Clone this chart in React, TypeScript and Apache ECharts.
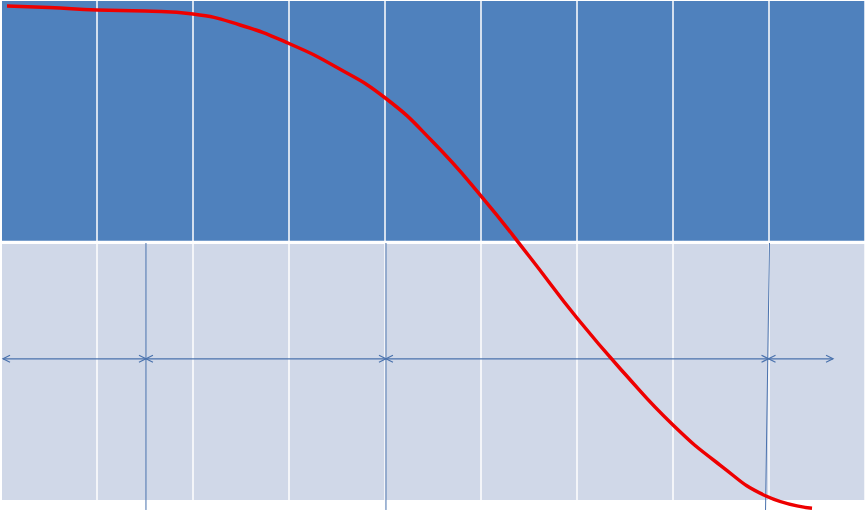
import React, { useEffect, useRef } from "react";
import * as echarts from "echarts";

// x unit = one column (columns 0..9), y unit = 0 (bottom band edge) .. 100 (top band edge)
const curveX = [0.0625, 0.5, 1.0, 1.5, 2.0, 2.49, 3.0, 3.5, 4.01, 4.5, 5.01, 5.5, 6.0, 6.5, 7.0, 7.49, 7.969, 8.448];
const curveY = [99.0, 98.7, 98.2, 98.0, 97.39, 95.19, 91.48, 86.67, 80.46, 71.74, 60.72, 48.9, 36.47, 25.25, 15.03, 7.01, 0.8, -1.66];

// bands: [x0, x1, yBottom, yTop]
const bandUpper = [0.0104, 9, 51.96, 100];
const bandLower = [0.0104, 9, 0, 51.3];

// vertical divider lines: [xTop, xBottom, yTop, yBottom]
const dividers = [
  [1.51, 1.51, 51.5, -2.0],
  [4.01, 4.01, 51.5, -2.0],
  [8.005, 7.964, 51.5, -2.0],
];

// dimension arrow stops along one horizontal line
const arrowStops = [0.021, 1.51, 4.01, 7.995, 8.667];
const arrowLevel = 28.3;

const BLUE = "#4f81bd";
const GREY = "#d0d8e8";
const LINE_BLUE = "#4a72ad";

export default function App() {
  const ref = useRef<HTMLDivElement>(null);

  useEffect(() => {
    if (!ref.current) return;
    const chart = echarts.init(ref.current, null, { renderer: "svg" });

    const arrowSegs = arrowStops.slice(0, -1).map((s, i) => [s, arrowStops[i + 1], arrowLevel]);

    const option: any = {
      animation: false,
      backgroundColor: "#ffffff",
      grid: { left: 1, top: 1, width: 864, height: 499 },
      xAxis: {
        type: "value",
        min: 0,
        max: 9,
        interval: 1,
        z: 3,
        axisLine: { show: false },
        axisTick: { show: false },
        axisLabel: { show: false },
        splitLine: { show: true, lineStyle: { color: "#ffffff", width: 1.5 } },
      },
      yAxis: {
        type: "value",
        min: 0,
        max: 100,
        axisLine: { show: false },
        axisTick: { show: false },
        axisLabel: { show: false },
        splitLine: { show: false },
      },
      series: [
        {
          type: "custom",
          z: 1,
          clip: false,
          data: [
            [...bandUpper, 0],
            [...bandLower, 1],
          ],
          encode: { x: [0, 1], y: [2, 3] },
          renderItem: (params: any, api: any) => {
            const p0 = api.coord([api.value(0), api.value(3)]);
            const p1 = api.coord([api.value(1), api.value(2)]);
            return {
              type: "rect",
              shape: { x: p0[0], y: p0[1], width: p1[0] - p0[0], height: p1[1] - p0[1] },
              style: { fill: api.value(4) === 0 ? BLUE : GREY },
            };
          },
        },
        {
          type: "custom",
          z: 5,
          clip: false,
          data: dividers,
          encode: { x: [0, 1], y: [2, 3] },
          renderItem: (params: any, api: any) => {
            const a = api.coord([api.value(0), api.value(2)]);
            const b = api.coord([api.value(1), api.value(3)]);
            return {
              type: "line",
              shape: { x1: a[0], y1: a[1], x2: b[0], y2: b[1] },
              style: { stroke: LINE_BLUE, lineWidth: 1 },
            };
          },
        },
        {
          type: "custom",
          z: 6,
          clip: false,
          data: arrowSegs,
          encode: { x: [0, 1], y: 2 },
          renderItem: (params: any, api: any) => {
            const a = api.coord([api.value(0), api.value(2)]);
            const b = api.coord([api.value(1), api.value(2)]);
            const L = 7;
            const H = 3.5;
            const st = { stroke: LINE_BLUE, lineWidth: 1.2, fill: "none" };
            return {
              type: "group",
              children: [
                { type: "line", shape: { x1: a[0], y1: a[1], x2: b[0], y2: b[1] }, style: st },
                {
                  type: "polyline",
                  shape: { points: [[a[0] + L, a[1] - H], [a[0], a[1]], [a[0] + L, a[1] + H]] },
                  style: st,
                },
                {
                  type: "polyline",
                  shape: { points: [[b[0] - L, b[1] - H], [b[0], b[1]], [b[0] - L, b[1] + H]] },
                  style: st,
                },
              ],
            };
          },
        },
        {
          type: "line",
          z: 10,
          clip: false,
          smooth: 0.5,
          showSymbol: false,
          symbol: "none",
          data: curveX.map((x, i) => [x, curveY[i]]),
          lineStyle: { color: "#ee0000", width: 3.5 },
        },
      ],
    };

    chart.setOption(option);
    return () => chart.dispose();
  }, []);

  return (
    <div
      ref={ref}
      style={{ position: "absolute", left: 0, top: 0, width: 865, height: 513 }}
    />
  );
}
